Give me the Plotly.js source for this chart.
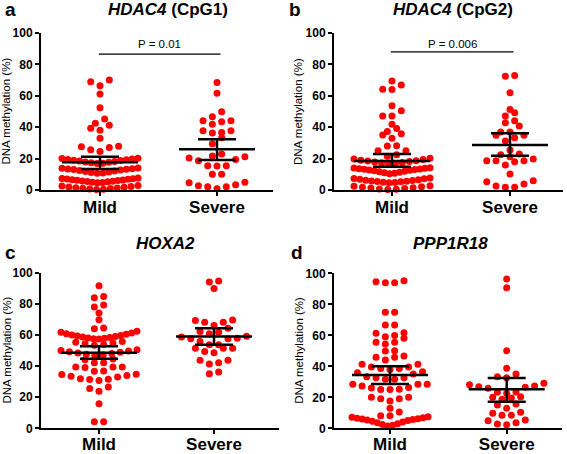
<!DOCTYPE html>
<html><head><meta charset="utf-8">
<script src="https://cdn.plot.ly/plotly-3.0.1.min.js"></script>
<style>html,body{margin:0;padding:0;background:#fff}#chart{width:567px;height:454px}</style>
</head><body><div id="chart"></div>
<script>
// ---------------- DATA ----------------
const groups = ['Mild', 'Severe'];
const panelLetters = ['a', 'b', 'c', 'd'];
const geneTitles = ['<i>HDAC4</i> (CpG1)', '<i>HDAC4</i> (CpG2)', '<i>HOXA2</i>', '<i>PPP1R18</i>'];
const pValues = ['P = 0.01', 'P = 0.006', 'P = 0.03', 'P = 0.03'];
const yTickVals = [0, 20, 40, 60, 80, 100];
const yAxisTitle = 'DNA methylation (%)';

const mildA = [70.1, 69.0, 66.4, 61.1, 52.4, 45.2, 42.5, 41.2, 39.3, 38.0, 32.9, 27.8, 27.6, 27.0, 25.7, 24.6,
  16.8, 17.0, 17.3, 17.6, 17.9, 18.2, 18.5, 18.8, 19.0, 19.3, 19.5, 19.8, 20.0, 20.3,
  10.6, 10.9, 11.2, 11.5, 11.8, 12.1, 12.4, 12.7, 13.0, 13.2, 13.4, 13.6, 13.8, 14.0,
  4.6, 4.8, 5.0, 5.2, 5.4, 5.6, 5.8, 6.0, 6.2, 6.4, 6.6, 6.8, 7.0, 7.2, 7.4, 7.6,
  0.3, 0.5, 0.7, 0.9, 1.1, 1.3, 1.5, 1.7, 1.9, 2.2, 2.5, 2.8];
const severeA = [68.4, 61.6, 49.9, 46.7, 44.1, 43.5, 44.1, 41.8, 37.8, 36.3, 36.7, 37.8, 33.3, 29.5,
  21.7, 19.5, 18.7, 20.4, 21.2, 22.9, 15.5, 15.3, 15.5, 10.0, 10.0, 4.9, 3.4, 2.1, 0.8, 2.1, 2.7, 4.6];

const mildB = [69.5, 66.8, 64.2, 64.0, 53.6, 50.4, 47.2, 47.2, 41.8, 39.2, 37.3, 35.8, 35.0, 32.9, 28.2, 28.0, 25.0, 25.0,
  21.5, 22.5,
  16.6, 16.9, 17.2, 17.5, 17.8, 18.1, 18.4, 18.7, 19.0, 19.4, 19.8, 20.2,
  10.4, 10.7, 11.0, 11.3, 11.6, 11.9, 12.2, 12.5, 12.8, 13.0, 13.2, 13.4, 13.6, 13.8, 14.0, 14.2,
  4.6, 4.8, 5.0, 5.2, 5.4, 5.6, 5.8, 6.0, 6.2, 6.5, 6.8, 7.1, 7.4, 7.7,
  0.3, 0.5, 0.7, 0.9, 1.2, 1.5, 1.8, 2.1, 2.4, 2.7];
const severeB = [72.5, 72.9, 61.9, 51.3, 47.1, 49.2, 42.8, 40.7, 44.1, 36.9, 34.8, 33.3, 34.8, 36.9, 31.2, 25.4,
  22.9, 19.7, 18.6, 18.0, 18.6, 18.6, 21.2, 22.4, 15.9, 10.2, 5.3, 2.5, 1.7, 1.7, 3.8, 5.9];

const mildC = [91.6, 84.7, 83.9, 79.2, 78.0, 74.1, 69.8, 64.5, 63.9,
  57.4, 57.6, 57.8, 58.1, 58.4, 58.7, 59.0, 59.3, 59.6, 60.0, 60.4, 60.8, 61.3, 61.8, 62.4,
  53.3, 53.8, 54.3, 54.8, 55.3, 55.8,
  46.8, 47.2, 47.6, 48.0, 48.4, 48.8, 49.2, 49.6, 50.0, 50.5,
  42.2, 42.2, 44.0, 44.5,
  36.6, 36.8, 39.0, 39.4, 39.4, 39.4,
  30.7, 31.3, 31.5, 31.9, 33.0, 33.4, 34.0, 34.5, 34.7,
  23.8, 25.6, 26.6, 15.7, 4.2, 4.2];
const severeC = [94.6, 94.1, 89.8, 68.1, 69.6, 69.2, 68.1, 66.0, 64.3, 61.7, 62.2, 60.7, 59.2, 57.9, 57.5, 57.5,
  58.6, 53.7, 51.5, 51.5, 55.8, 49.4, 51.5, 53.7, 48.6, 43.8, 41.3, 42.2, 43.8, 35.1, 36.2];

const mildD = [95.2, 93.9, 93.9, 94.6, 74.8, 74.8, 66.6, 66.6, 61.7, 59.8, 58.1, 59.1, 61.3, 55.5, 54.4, 55.5,
  49.9, 50.1, 45.8, 44.1, 45.8, 46.6, 41.3, 41.3, 39.5, 38.5, 38.0, 38.5, 39.5, 35.9, 36.5,
  33.3, 32.6, 31.6, 31.6, 32.6, 35.0, 28.4, 27.3, 28.4, 28.4, 25.2, 25.0, 25.0, 26.0, 26.3,
  20.0, 19.1, 17.6, 19.1, 20.0, 12.9, 8.1, 8.1, 10.5,
  7.5, 7.2, 6.8, 6.5, 6.2, 6.0, 5.7, 5.4, 5.0, 4.5, 4.0, 3.5, 3.0, 2.5, 2.0, 1.5];
const severeD = [96.3, 90.7, 50.1, 38.7, 35.0, 33.3, 32.6, 29.0, 28.1, 26.8, 25.8, 27.3, 26.5, 23.2, 22.6, 23.4,
  20.0, 18.7, 19.5, 20.4, 15.0, 15.7, 12.9, 10.3, 8.4, 8.4, 9.7, 4.9, 5.4, 3.6, 2.3, 2.8];

// mean and 95% CI per panel: [Mild, Severe]
const means = [[17.6, 25.9], [18.4, 28.6], [48.6, 59.0], [34.4, 25.2]];
const ciLow = [[13.4, 19.1], [14.8, 21.8], [44.7, 53.7], [28.5, 17.1]];
const ciHigh = [[21.2, 32.3], [22.9, 36.2], [52.8, 64.3], [40.0, 32.4]];

// ---------------- LAYOUT GEOMETRY ----------------
const W = 567, H = 454;
const panelData = [[mildA, severeA], [mildB, severeB], [mildC, severeC], [mildD, severeD]];
const geom = [
  {x0: 41, x1: 273, yTop: 33, yBot: 190, c0: 100, c1: 217, title: [168, 9], letter: [10, 10], ytitle: 6, bracketY: 86.6, pY: 93, stand: -3},
  {x0: 334, x1: 563, yTop: 33, yBot: 190, c0: 392, c1: 510, title: [453, 9], letter: [295, 10], ytitle: 298.5, bracketY: 88, pY: 93, stand: -3},
  {x0: 41, x1: 279, yTop: 272.7, yBot: 428.3, c0: 99, c1: 214, title: [165, 243], letter: [10, 252], ytitle: 6, bracketY: 102.2, pY: 107.5, stand: -5},
  {x0: 334, x1: 562, yTop: 273.3, yBot: 428.3, c0: 390, c1: 506.7, title: [450, 243.5], letter: [297, 252], ytitle: 299, bracketY: 102.6, pY: 107.7, stand: -5}
];
const FONT = 'Liberation Sans, Arial, Helvetica, sans-serif';
const RED = '#ff0000';
const SPACING = 9.3, MAX_WIDTH = 76, ROW_MAX = 10, ROW_GAP = 1.5, ROW_MIN = 6;
const MEAN_HW = 38, CAP_HW = 19;

function swarmOffsets(vals, pyu) {
  const order = vals.map((v, i) => i).sort((a, b) => vals[a] - vals[b]);
  const rows = []; let cur = null, prev = null;
  for (const i of order) {
    const y = vals[i] * pyu;
    if (!cur || y - cur.start > ROW_MAX || (y - prev > ROW_GAP && y - cur.start > ROW_MIN)) {
      cur = {start: y, idx: []}; rows.push(cur);
    }
    cur.idx.push(i); prev = y;
  }
  const off = new Array(vals.length).fill(0);
  rows.forEach(r => {
    const n = r.idx.length;
    const s = n > 1 ? Math.min(SPACING, MAX_WIDTH / (n - 1)) : SPACING;
    r.idx.forEach((i, k) => {
      let slot;
      if (n % 2 === 1) slot = k === 0 ? 0 : (k % 2 === 1 ? -Math.ceil(k / 2) : Math.ceil(k / 2));
      else slot = (k % 2 === 0 ? -1 : 1) * (Math.floor(k / 2) + 0.5);
      off[i] = slot * s;
    });
  });
  return off;
}

const traces = [], shapes = [], annotations = [];
const layout = {
  width: W, height: H, margin: {l: 0, r: 0, t: 0, b: 0},
  paper_bgcolor: '#fff', plot_bgcolor: '#fff', showlegend: false,
  font: {family: FONT, color: '#000'}
};

geom.forEach((g, p) => {
  const sfx = p === 0 ? '' : String(p + 1);
  const pxu = g.c1 - g.c0;                 // px per x unit
  const pyu = (g.yBot - g.yTop) / 100;     // px per y unit
  layout['xaxis' + sfx] = {
    domain: [g.x0 / W, g.x1 / W], range: [(g.x0 - g.c0) / pxu, (g.x1 - g.c0) / pxu],
    anchor: 'y' + sfx, tickmode: 'array', tickvals: [0, 1], ticktext: groups,
    showline: true, linecolor: '#000', linewidth: 2, ticks: 'outside', ticklen: 4, tickwidth: 2, tickcolor: '#000',
    ticklabelstandoff: g.stand,
    showgrid: false, zeroline: false, fixedrange: true,
    tickfont: {family: FONT, size: 17, weight: 'bold', color: '#000'}
  };
  layout['yaxis' + sfx] = {
    domain: [1 - g.yBot / H, 1 - g.yTop / H], range: [0, 100],
    anchor: 'x' + sfx, tickmode: 'array', tickvals: yTickVals,
    showline: true, linecolor: '#000', linewidth: 2, ticks: 'outside', ticklen: 4, tickwidth: 2, tickcolor: '#000',
    showgrid: false, zeroline: false, fixedrange: true,
    tickfont: {family: FONT, size: 12, weight: 'bold', color: '#000'}
  };
  panelData[p].forEach((vals, gi) => {
    const off = swarmOffsets(vals, pyu);
    traces.push({
      type: 'scatter', mode: 'markers', xaxis: 'x' + sfx, yaxis: 'y' + sfx,
      x: vals.map((v, i) => gi + off[i] / pxu), y: vals,
      marker: {color: RED, size: 7, line: {width: 0}}, cliponaxis: false, hoverinfo: 'skip'
    });
    const ln = {color: '#000', width: 2.5};
    const xr = 'x' + sfx, yr = 'y' + sfx;
    shapes.push({type: 'line', xref: xr, yref: yr, x0: gi - MEAN_HW / pxu, x1: gi + MEAN_HW / pxu, y0: means[p][gi], y1: means[p][gi], line: ln});
    shapes.push({type: 'line', xref: xr, yref: yr, x0: gi - CAP_HW / pxu, x1: gi + CAP_HW / pxu, y0: ciHigh[p][gi], y1: ciHigh[p][gi], line: ln});
    shapes.push({type: 'line', xref: xr, yref: yr, x0: gi - CAP_HW / pxu, x1: gi + CAP_HW / pxu, y0: ciLow[p][gi], y1: ciLow[p][gi], line: ln});
    shapes.push({type: 'line', xref: xr, yref: yr, x0: gi, x1: gi, y0: ciLow[p][gi], y1: ciHigh[p][gi], line: ln});
  });
  // significance bracket
  shapes.push({type: 'line', xref: 'x' + sfx, yref: 'y' + sfx, x0: -0.01, x1: 1.03, y0: g.bracketY, y1: g.bracketY, line: {color: '#000', width: 1.2}});
  annotations.push({xref: 'x' + sfx, yref: 'y' + sfx, x: 0.51, y: g.pY, text: pValues[p], showarrow: false,
    font: {family: FONT, size: 11.5, color: '#000'}, xanchor: 'center', yanchor: 'middle'});
  // gene title
  annotations.push({xref: 'paper', yref: 'paper', x: g.title[0] / W, y: 1 - g.title[1] / H, text: '<b>' + geneTitles[p] + '</b>',
    showarrow: false, font: {family: FONT, size: 17, color: '#000'}, xanchor: 'center', yanchor: 'middle'});
  // panel letter
  annotations.push({xref: 'paper', yref: 'paper', x: g.letter[0] / W, y: 1 - g.letter[1] / H, text: '<b>' + panelLetters[p] + '</b>',
    showarrow: false, font: {family: FONT, size: 19, color: '#000'}, xanchor: 'center', yanchor: 'middle'});
  // y-axis title
  annotations.push({xref: 'paper', yref: 'paper', x: g.ytitle / W, y: 1 - ((g.yTop + g.yBot) / 2) / H, text: yAxisTitle,
    textangle: -90, showarrow: false, font: {family: FONT, size: 11.5, color: '#000'}, xanchor: 'center', yanchor: 'middle'});
});
layout.shapes = shapes;
layout.annotations = annotations;
Plotly.newPlot('chart', traces, layout, {staticPlot: true, displayModeBar: false});
</script>
</body></html>
